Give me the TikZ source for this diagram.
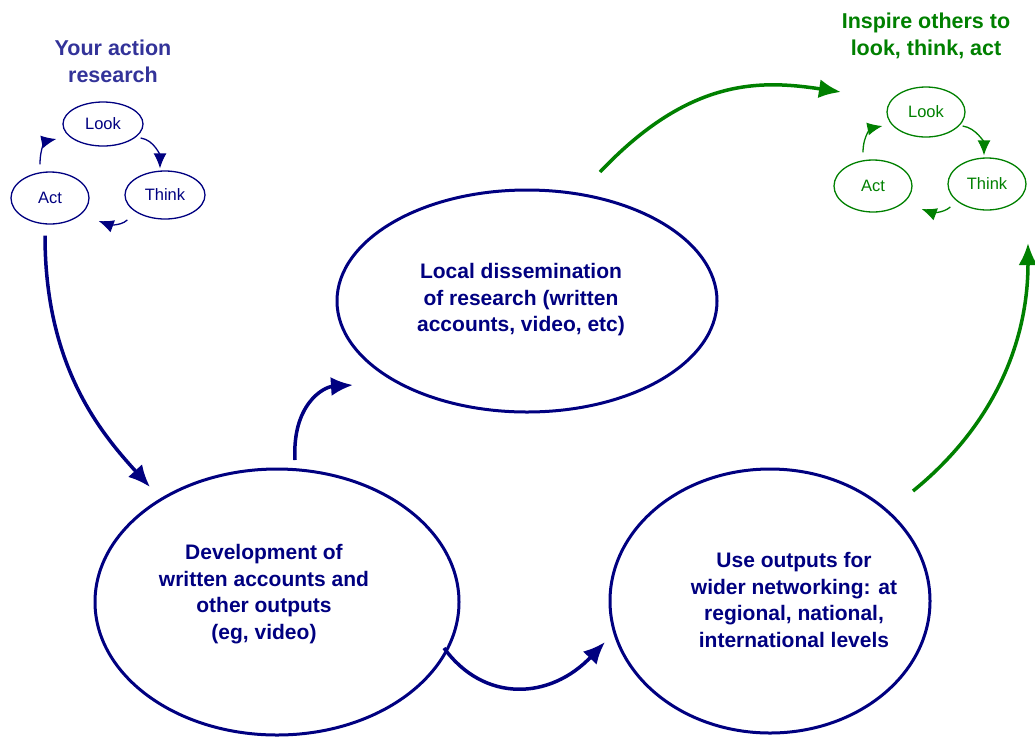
\documentclass[tikz,border=0pt]{standalone}
\usepackage{fontspec}
\setmainfont{Liberation Sans}
\usetikzlibrary{calc,arrows.meta,shapes.geometric}
\definecolor{navy}{RGB}{0,0,128}
\definecolor{tblue}{RGB}{51,51,153}
\definecolor{gr}{RGB}{0,128,0}
\tikzset{
  bigell/.style={ellipse, draw=navy, line width=3pt, inner sep=0pt},
  bigtxt/.style={align=center, text=navy, font=\fontsize{21}{26.5}\selectfont\bfseries},
  smell/.style={ellipse, draw=#1, line width=1.3pt, inner sep=0pt, text=#1, font=\fontsize{16.5}{18}\selectfont},
  sarr/.style={draw=#1, line width=1.3pt, -{Latex[length=15pt,width=13pt]}},
  barr/.style={draw=#1, line width=3.5pt, -{Latex[length=22pt,width=19pt]}},
  ttl/.style={align=center, text=#1, font=\fontsize{21.5}{27}\selectfont\bfseries},
}
\begin{document}
\begin{tikzpicture}[x=1pt,y=-1pt]
\useasboundingbox (0,0) rectangle (1035,740);
% titles
\node[ttl=tblue] (t1) at (113,61) {Your action\\research};
\node[ttl=gr] (t2) at (926,36) {Inspire others to\\look, think, act};
% blue cycle
\node[smell=navy, minimum width=80, minimum height=44] (look) at (103,124) {Look};
\node[smell=navy, minimum width=80, minimum height=48] (think) at (165,195) {Think};
\node[smell=navy, minimum width=78, minimum height=52] (act) at (50,198) {Act};
\draw[sarr=navy] ($(act.north)+(-10,-7)$) .. controls +(0,-18) and +(-10,2) .. ($(look.west)+(-6,15)$);
\draw[sarr=navy] ($(look.east)+(-3,14)$) .. controls +(14,2) and +(0,-12) .. ($(think.north)+(-5,-2)$);
\draw[sarr=navy] ($(think.west)+(3,25)$) .. controls +(-8,7) and +(8,3) .. ($(act.east)+(9,23)$);
% green cycle
\node[smell=gr, minimum width=78, minimum height=50] (glook) at (926,112) {Look};
\node[smell=gr, minimum width=78, minimum height=52] (gthink) at (987,184) {Think};
\node[smell=gr, minimum width=78, minimum height=52] (gact) at (873,186) {Act};
\draw[sarr=gr] ($(gact.north)+(-10,-7)$) .. controls +(0,-18) and +(-10,2) .. ($(glook.west)+(-4,14)$);
\draw[sarr=gr] ($(glook.east)+(-3,14)$) .. controls +(14,2) and +(0,-12) .. ($(gthink.north)+(-3,-2)$);
\draw[sarr=gr] ($(gthink.west)+(3,23)$) .. controls +(-8,7) and +(8,3) .. ($(gact.east)+(9,23)$);
% big ellipses
\node[bigell, minimum width=380, minimum height=222] (loc) at (527,301) {};
\node[bigtxt] (loct) at (521,300) {Local dissemination\\of research (written\\accounts, video, etc)};
\node[bigell, minimum width=364, minimum height=266] (dev) at (277,602) {};
\node[bigtxt] (devt) at (264,594) {Development of\\written accounts and\\other outputs\\(eg, video)};
\node[bigell, minimum width=320, minimum height=264] (use) at (770,601) {};
\node[bigtxt] (uset) at (794,600) {Use outputs for\\wider networking: at\\regional, national,\\international levels};
% big arrows
\draw[barr=navy] ($(act.south)+(-5,11)$) .. controls +(0,130) and +(-50,-55) .. ($(dev.center)+(-127,-115)$);
\draw[barr=navy] ($(dev.center)+(18,-142)$) .. controls +(-3,-55) and +(-30,2) .. ($(loc.center)+(-174,84)$);
\draw[barr=navy] ($(dev.center)+(167,46)$) .. controls +(40,55) and +(-55,58) .. ($(use.center)+(-165,41)$);
\draw[barr=gr] ($(loc.center)+(73,-129)$) .. controls +(90,-95) and +(-80,-12) .. ($(glook.center)+(-85,-20)$);
\draw[barr=gr] ($(use.center)+(143,-110)$) .. controls +(80,-65) and +(0,100) .. ($(gthink.center)+(41,59)$);
\end{tikzpicture}
\end{document}
